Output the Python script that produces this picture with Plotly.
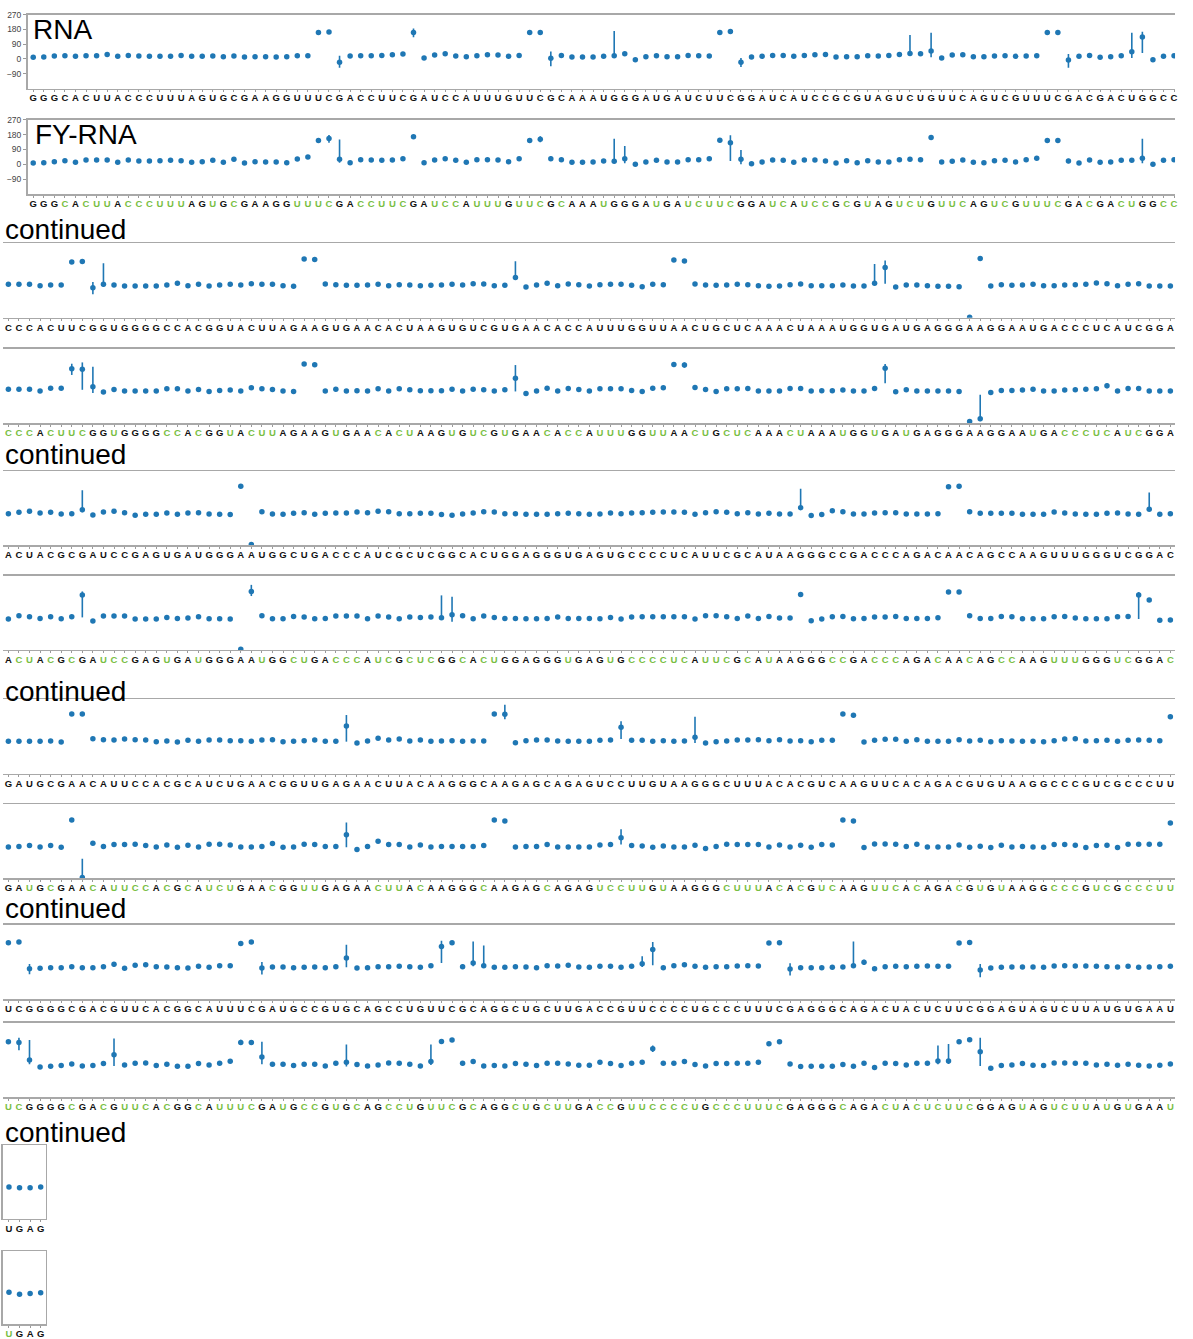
import plotly.graph_objects as go

W, H = 1193, 1339
BLUE = "#1f77b4"
GREEN = "#78be43"
SPINE = "#a8a8a8"

# ---------------- sequences (tick labels) ----------------
seq_row1 = ("GGGCACUUAC" "CCUUUAGUGC" "GAAGGUUUCG" "ACCUUCGAUC" "CAUUUGUUCG" "CAAA"
            "UGGGAUGAUC" "UUCGGAUCAU" "CCGCGUAGUC" "UGUUCAGUCG" "UUUCGACGAC" "UGGCC")
seq_row2 = ("CCCACUUCGG" "UGGGGCCACG" "GUACUUAGAA" "GUGAACACUA" "AGUGUCGUGA" "ACACCA"
            "UUUGGUUAAC" "UGCUCAAACU" "AAAUGGUGAU" "GAGGGAAGGA" "AUGACCCUCA" "UCGGA")
seq_row3 = ("ACUACGCGAU" "CCGAGUGAUG" "GGAAUGGCUG" "ACCCAUCGCU" "CGGCACUGGA" "GGGUGA"
            "GUGCCCCUCA" "UUCGCAUAAG" "GGCCGACCCA" "GACAACAGCC" "AAGUUUGGGU" "CGGAC")
seq_row4 = ("GAUGCGAACA" "UUCCACGCAU" "CUGAACGGUU" "GAGAACUUAC" "AAGGGCAAGA" "GCAGAG"
            "UCCUUGUAAG" "GGCUUUACAC" "GUCAAGUUCA" "CAGACGUGUA" "AGGCCCGUCG" "CCCUU")
seq_row5 = ("UCGGGGCGAC" "GUUCACGGCA" "UUUCGAUGCC" "GUGCAGCCUG" "UUCGCAGGCU" "GCUUGA"
            "CCGUUCCCCU" "GCCCUUUCGA" "GGGCAGACUA" "CUCUUCGGAG" "UAGUCUUAUG" "UGAAU")
seq_row6 = "UGAG"

# ---------------- values (degrees) ----------------
rna_row1 = [10,12,18,20,16,20,20,28,16,22, 18,16,16,16,22,16,16,18,14,18,
            12,14,14,12,14,20,20,162,164,-20, 18,20,20,22,26,30,162,6,24,32,
            18,14,20,26,24,16,22,162,162,4, 22,12,12,12,
            16,20,32,-4,14,20,14,14,22,20, 18,162,168,-20,12,16,22,22,16,22,
            26,28,12,14,14,20,18,22,28,34, 32,48,6,24,26,14,14,18,20,16,
            18,20,162,162,-6,16,22,10,14,20, 44,134,-4,16,20]
fy_row1 = [8,10,16,22,12,26,26,26,12,26, 20,20,22,24,22,12,16,24,12,30,
           8,16,14,14,10,32,44,144,156,30, 10,28,26,24,26,34,166,10,26,34,
           24,12,28,28,26,16,34,144,152,34, 28,12,12,14,
           20,18,34,0,14,24,14,14,28,28, 34,146,130,30,4,14,26,24,12,26,
           26,20,8,22,10,22,14,14,28,30, 28,162,14,18,26,12,10,22,24,14,
           28,36,144,144,20,8,26,12,14,24, 24,36,0,24,28]
rna_row2 = [22,22,22,14,18,18,158,160,2,22, 18,12,12,12,12,18,28,14,22,12,
            18,22,18,26,22,22,14,10,176,172, 24,20,16,16,18,22,14,20,18,14,
            16,18,22,18,26,24,14,16,64,6, 18,28,14,24,20,12,
            20,22,22,16,8,22,20,170,164,24, 18,16,18,22,20,14,10,12,20,24,
            14,14,14,18,12,12,28,124,6,18, 18,14,10,10,8,-178,178,12,20,16,
            18,22,14,14,18,20,22,30,26,14, 22,26,12,12,12]
fy_row2 = [26,26,26,14,32,32,150,146,40,8, 24,14,14,14,14,28,28,14,24,12,
           18,20,14,34,28,24,14,12,178,174, 14,26,14,16,14,28,14,28,22,16,
           16,16,26,14,26,22,14,22,92,0, 14,32,14,30,24,14,
           28,28,28,18,12,32,34,176,172,36, 24,12,28,28,30,14,14,14,30,30,
           14,16,16,20,14,14,30,152,10,22, 14,14,14,14,12,-170,-154,6,18,18,
           20,26,14,14,20,22,26,28,46,14, 30,30,14,14,14]
rna_row3 = [12,20,26,16,20,10,12,36,4,22, 26,18,2,8,8,16,8,16,18,10,
            8,6,178,-176,24,10,8,14,18,8, 14,16,16,22,18,26,24,12,12,14,
            14,6,2,10,16,24,22,12,12,8, 8,8,12,14,12,8,
            10,16,12,16,18,20,22,22,20,8, 18,24,20,12,18,10,14,10,10,48,
            0,6,30,24,10,10,16,18,18,10, 10,10,12,176,178,24,14,14,14,14,
            8,8,8,22,16,10,8,8,14,16, 10,8,38,8,12]
fy_row3 = [8,28,22,12,22,10,22,154,-4,26, 26,26,8,8,8,18,12,14,22,10,
           10,8,-176,176,28,10,10,24,20,10, 12,26,26,26,10,26,20,10,20,18,
           20,16,34,28,10,26,18,12,12,10, 10,12,20,12,12,12,
           10,18,8,20,22,22,22,22,22,8, 28,28,22,12,26,12,24,14,14,158,
           -2,8,22,24,10,12,20,20,24,12, 12,12,16,172,172,28,12,12,24,22,
           10,10,10,22,24,14,10,10,10,22, 24,154,124,0,2]
rna_row4 = [16,16,16,16,18,12,180,180,32,26, 24,30,26,24,14,18,12,22,16,24,
            24,20,20,16,24,26,14,16,20,24, 16,16,108,6,18,34,24,30,18,24,
            16,18,20,16,18,18,180,178,8,20, 24,24,18,16,16,16,
            22,24,100,22,22,16,20,16,18,40, 6,14,18,24,24,26,20,26,18,20,
            14,22,22,180,172,12,22,28,28,16, 26,16,16,16,26,18,22,14,20,18,
            16,16,14,20,30,32,18,20,22,16, 22,24,22,20,164]
fy_row4 = [12,14,20,12,20,10,176,-174,34,14, 26,26,28,20,12,24,10,22,12,28,
           28,24,12,12,14,32,10,12,28,26, 14,14,86,-4,14,46,26,26,12,24,
           12,14,14,14,14,20,176,170,12,14, 14,26,12,12,12,12,
           24,26,68,20,18,10,18,12,12,22, 2,14,28,26,26,26,12,24,12,22,
           10,26,24,176,170,8,30,30,28,14, 28,12,12,12,24,10,16,8,22,12,
           14,12,10,26,26,22,8,20,22,8, 28,28,28,28,158]
rna_row5 = [162,166,6,8,12,12,18,12,12,18, 32,8,26,30,18,16,12,10,20,14,
            24,24,158,166,10,16,16,12,14,16, 12,18,70,10,12,18,18,20,18,14,
            24,140,162,18,40,24,14,14,18,16, 12,24,22,26,16,14,
            20,20,14,20,36,122,12,24,30,20, 14,18,18,22,24,22,160,162,4,12,
            12,12,14,16,24,44,6,18,20,18, 20,22,20,20,160,164,-2,10,14,16,
            16,16,14,22,24,22,22,20,18,16, 20,14,16,18,20]
fy_row5 = [156,152,46,4,8,12,22,10,12,24, 78,16,26,28,12,20,8,8,24,16,
           26,38,152,152,64,20,20,12,20,20, 10,26,32,18,10,16,28,26,20,10,
           36,158,166,26,36,10,12,10,24,20, 12,26,26,22,14,14,
           32,24,12,26,32,114,26,26,36,18, 10,24,24,26,26,32,144,156,22,6,
           8,8,8,18,8,26,0,26,24,16, 26,26,40,40,156,168,96,-4,12,16,
           24,14,12,28,28,26,26,16,20,14, 20,14,10,14,22]
rna_row6 = [14, 8, 8, 14]
fy_row6 = [16, 4, 8, 14]

# ---------------- error bars: index -> (plus, minus) ----------------
rna_err1 = {27:(6,6),28:(6,6),29:(40,34),35:(10,10),36:(24,30),47:(6,6),48:(8,8),49:(42,48),
            55:(150,4),56:(10,10),65:(6,6),66:(4,4),67:(26,28),82:(8,8),83:(112,12),84:(10,10),
            85:(112,38),96:(6,6),97:(6,6),98:(36,48),104:(116,38),105:(32,98)}
fy_err1 = {19:(10,10),25:(10,10),26:(12,12),27:(14,14),28:(22,26),29:(120,20),35:(10,10),37:(8,8),
           46:(10,10),47:(14,14),48:(18,18),49:(14,14),50:(12,12),55:(136,12),56:(76,28),64:(8,8),
           65:(12,12),66:(46,110),67:(56,30),84:(8,8),85:(6,6),86:(8,8),96:(12,12),97:(12,12),
           98:(14,14),105:(118,30)}
rna_err2 = {6:(8,8),7:(8,8),8:(34,40),9:(128,16),28:(4,4),29:(6,6),30:(8,8),48:(98,10),63:(6,6),
            64:(6,6),65:(8,8),82:(118,12),83:(42,98),92:(8,8),103:(6,6),104:(6,6)}
fy_err2 = {5:(8,8),6:(30,38),7:(42,124),8:(122,38),28:(6,6),29:(8,8),48:(80,80),62:(8,8),63:(6,6),
           64:(16,16),65:(8,8),82:(6,6),83:(26,90),92:(146,14),104:(14,14)}
rna_err3 = {7:(118,16),22:(8,8),24:(8,8),75:(116,10),89:(4,4),90:(15,15),91:(8,8),108:(102,10)}
fy_err3 = {7:(22,136),23:(40,28),24:(8,8),41:(136,4),42:(110,42),43:(8,8),75:(8,8),89:(4,4),
           90:(10,10),91:(8,8),107:(18,146),108:(8,8)}
rna_err4 = {6:(6,6),7:(8,8),8:(8,8),32:(66,94),46:(4,4),47:(58,30),58:(36,70),65:(124,34),
            79:(4,4),80:(12,12)}
fy_err4 = {7:(114,6),8:(8,8),32:(74,76),35:(8,8),47:(6,6),58:(52,42),65:(12,12),80:(8,8),109:(8,8)}
rna_err5 = {0:(6,6),1:(6,6),2:(28,34),10:(14,14),22:(6,6),23:(6,6),24:(36,40),32:(80,56),
            41:(34,100),42:(6,6),43:(14,14),44:(130,20),45:(122,14),60:(44,20),61:(44,96),
            72:(6,6),73:(6,6),74:(34,40),80:(146,14),81:(16,16),90:(6,6),91:(6,6),92:(36,44)}
fy_err5 = {0:(10,10),1:(28,48),2:(120,26),10:(98,68),11:(6,6),21:(6,6),22:(16,16),23:(14,14),
           24:(92,44),32:(108,26),40:(104,20),41:(10,10),42:(10,10),43:(14,14),44:(10,10),
           61:(20,20),62:(8,8),72:(12,12),73:(8,8),81:(6,6),88:(94,20),89:(102,18),90:(12,12),
           91:(10,10),92:(84,86)}
rna_err6 = {}
fy_err6 = {}

y_tick_vals = [270, 180, 90, 0, -90]
y_tick_text = ["270", "180", "90", "0", "\u221290"]

panels = [
    (seq_row1, rna_row1, rna_err1, False), (seq_row1, fy_row1, fy_err1, True),
    (seq_row2, rna_row2, rna_err2, False), (seq_row2, fy_row2, fy_err2, True),
    (seq_row3, rna_row3, rna_err3, False), (seq_row3, fy_row3, fy_err3, True),
    (seq_row4, rna_row4, rna_err4, False), (seq_row4, fy_row4, fy_err4, True),
    (seq_row5, rna_row5, rna_err5, False), (seq_row5, fy_row5, fy_err5, True),
    (seq_row6, rna_row6, rna_err6, False), (seq_row6, fy_row6, fy_err6, True),
]

# layout geometry in pixels: left, right, top, bottom, x of first point
STEP = 10.59
geom = [
    (27.6, 1178, 9.7, 84.0, 33.3), (27.6, 1178, 115.3, 190.0, 33.3),
    (3, 1178, 239.7, 314.3, 8.4), (3, 1178, 345.7, 420.3, 8.4),
    (3, 1178, 468.7, 543.0, 8.4), (3, 1178, 574.0, 648.3, 8.4),
    (3, 1178, 697.7, 773.0, 8.4), (3, 1178, 803.7, 878.0, 8.4),
    (3, 1178, 924.7, 999.7, 8.4), (3, 1178, 1023.3, 1098.0, 8.4),
    (3, 46, 1146.0, 1220.0, 9.0), (3, 46, 1252.7, 1326.0, 9.0),
]

fig = go.Figure()
layout = dict(width=W, height=H, margin=dict(l=0, r=0, t=0, b=0),
              paper_bgcolor="white", plot_bgcolor="white", showlegend=False,
              font=dict(family="Liberation Sans, Arial, sans-serif"))

for i, ((seq, vals, errs, fy), (l, r, t, b, x0)) in enumerate(zip(panels, geom)):
    n = len(vals)
    sfx = "" if i == 0 else str(i + 1)
    plus = [errs.get(k, (0, 0))[0] for k in range(n)]
    minus = [errs.get(k, (0, 0))[1] for k in range(n)]
    fig.add_trace(go.Scatter(
        x=list(range(n)), y=vals, mode="markers",
        marker=dict(color=BLUE, size=5.5),
        error_y=dict(type="data", symmetric=False, array=plus, arrayminus=minus,
                     color=BLUE, thickness=1.6, width=0),
        xaxis="x" + sfx, yaxis="y" + sfx, hoverinfo="skip", cliponaxis=True))
    labels = []
    for ch in seq[:n]:
        if fy and ch in "CU":
            labels.append('<span style="color:%s">%s</span>' % (GREEN, ch))
        else:
            labels.append(ch)
    lo = -(x0 - l) / STEP
    hi = (r - x0) / STEP
    layout["xaxis" + sfx] = dict(
        domain=[l / W, r / W], anchor="y" + sfx, range=[lo, hi],
        tickmode="array", tickvals=list(range(n)), ticktext=labels, tickangle=0,
        tickfont=dict(size=9.5, color="#111111", weight="bold",
                      family="Liberation Sans, Arial, sans-serif"),
        ticks="outside", ticklen=2, tickwidth=1, tickcolor="#9a9a9a",
        ticklabelstandoff=-2,
        showline=True, linecolor=SPINE, linewidth=1.5, mirror=True,
        showgrid=False, zeroline=False, fixedrange=True)
    row = i // 2
    yax = dict(domain=[1 - b / H, 1 - t / H], anchor="x" + sfx, range=[-180, 270],
               showgrid=False, zeroline=False, fixedrange=True)
    if row == 0:
        yax.update(showline=True, linecolor=SPINE, linewidth=1.5, mirror=False,
                   tickmode="array", tickvals=y_tick_vals, ticktext=y_tick_text,
                   ticks="outside", ticklen=3, tickcolor="#9a9a9a",
                   tickfont=dict(size=8.5, color="#444444"))
    elif row == 5:
        yax.update(showline=True, linecolor=SPINE, linewidth=1.5, mirror=True,
                   showticklabels=False, ticks="")
    else:
        yax.update(showline=False, showticklabels=False, ticks="")
    layout["yaxis" + sfx] = yax

annotations = []
for txt, xp, cap_top in [("RNA", 31, 13.3), ("FY-RNA", 33, 119.3)]:
    annotations.append(dict(text=txt, x=xp / W, y=1 - (cap_top - 6.3) / H,
                            xref="paper", yref="paper", xanchor="left", yanchor="top",
                            showarrow=False, font=dict(size=28, color="black")))
for base in [236, 463, 701, 919, 1144]:
    annotations.append(dict(text="continued", x=3 / W, y=1 - (base + 6.9) / H,
                            xref="paper", yref="paper", xanchor="left", yanchor="bottom",
                            showarrow=False, font=dict(size=28, color="black")))
layout["annotations"] = annotations
fig.update_layout(**layout)
fig.write_html("out.html", config={"staticPlot": True, "displayModeBar": False},
               post_script="document.body.style.margin='0';document.body.style.padding='0';"
                           "document.documentElement.style.overflow='hidden';")
